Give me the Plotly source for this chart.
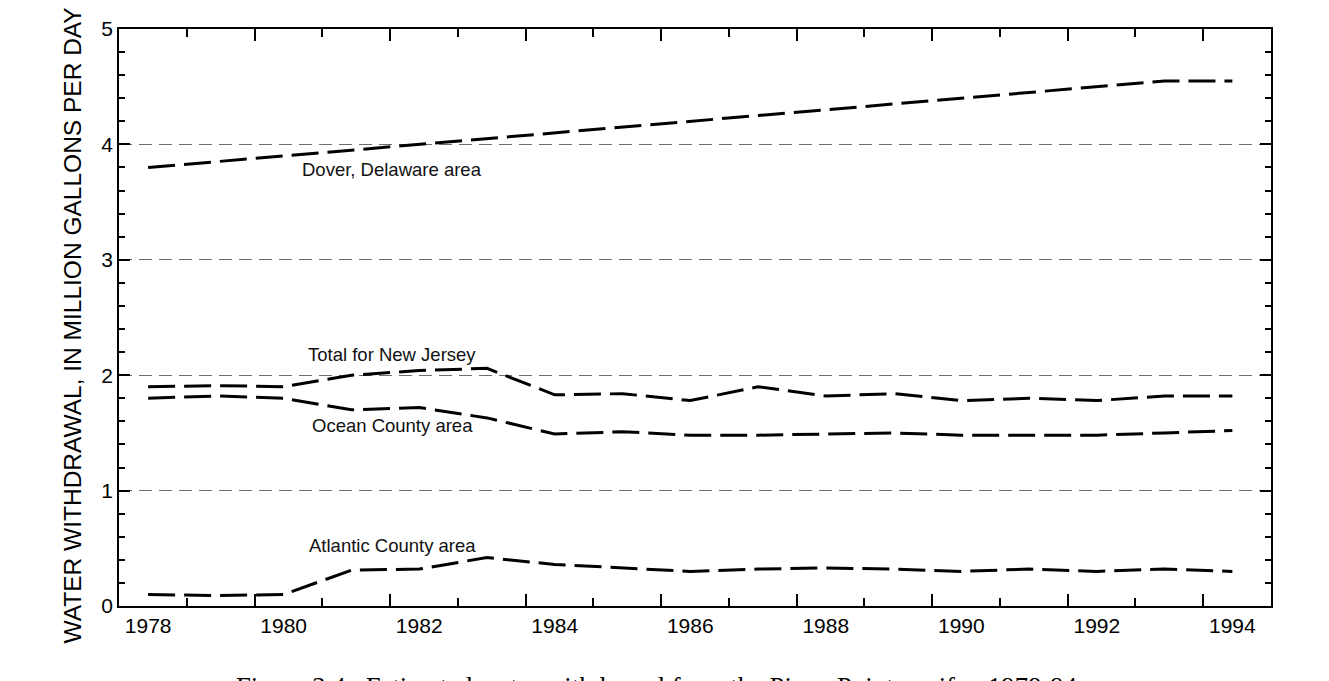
import plotly.graph_objects as go

years = list(range(1978, 1995))
dover = [3.80, 3.85, 3.90, 3.95, 4.00, 4.05, 4.10, 4.15, 4.20, 4.25, 4.30, 4.35, 4.40, 4.45, 4.50, 4.55, 4.55]
total_nj = [1.90, 1.91, 1.90, 2.00, 2.04, 2.06, 1.83, 1.84, 1.78, 1.90, 1.82, 1.84, 1.78, 1.80, 1.78, 1.82, 1.82]
ocean = [1.80, 1.82, 1.80, 1.70, 1.72, 1.63, 1.49, 1.51, 1.48, 1.48, 1.49, 1.50, 1.48, 1.48, 1.48, 1.50, 1.52]
atlantic = [0.10, 0.09, 0.10, 0.31, 0.32, 0.42, 0.36, 0.33, 0.30, 0.32, 0.33, 0.32, 0.30, 0.32, 0.30, 0.32, 0.30]

series = [dover, total_nj, ocean, atlantic]
label_texts = ["Dover, Delaware area", "Total for New Jersey", "Ocean County area", "Atlantic County area"]
label_pos = [(1981.6, 3.78), (1981.6, 2.18), (1981.6, 1.56), (1981.6, 0.52)]

xlabels = list(range(1978, 1995, 2))
tick_offset = 0.57
major_ticks = [y + tick_offset for y in range(1979, 1994, 2)]
minor_ticks = [y + tick_offset for y in range(1978, 1994, 2)]
xrange = [1977 + tick_offset, 1994 + tick_offset]

FONT = "Liberation Sans, Arial, sans-serif"
line_style = dict(color="black", width=3, dash="27px,9px")

fig = go.Figure()
for s in series:
    fig.add_trace(go.Scatter(x=years, y=s, mode="lines", line=line_style,
                             showlegend=False, hoverinfo="skip"))
# dummy trace to hold the tick-only overlay axis
fig.add_trace(go.Scatter(x=[None], y=[None], xaxis="x2", yaxis="y",
                         mode="lines", showlegend=False, hoverinfo="skip"))

for txt, (lx, ly) in zip(label_texts, label_pos):
    fig.add_annotation(x=lx, y=ly, text=txt, showarrow=False,
                       font=dict(family=FONT, size=18.5, color="#111"))

# y-axis title
fig.add_annotation(xref="paper", yref="paper", x=-0.0404, y=0.487,
                   xanchor="center", yanchor="middle", textangle=-90, showarrow=False,
                   text="WATER WITHDRAWAL, IN MILLION GALLONS PER DAY",
                   font=dict(family=FONT, size=24.5, color="black"))

fig.add_annotation(xref="paper", yref="paper", x=0.4696, y=-0.111,
                   xanchor="center", yanchor="top", showarrow=False,
                   text="Figure 3.4.\u00a0 Estimated water withdrawal from the Piney Point aquifer, 1978-94.",
                   font=dict(family="Liberation Serif, Times New Roman, serif", size=26.7, color="black"))

fig.update_layout(
    width=1329, height=681,
    margin=dict(l=119, r=58, t=29, b=75),
    paper_bgcolor="white", plot_bgcolor="white",
    xaxis=dict(range=xrange, tickvals=xlabels, ticktext=[str(v) for v in xlabels],
               ticks="", showgrid=False, zeroline=False,
               showline=True, linecolor="black", linewidth=1.5, mirror=True,
               tickfont=dict(family=FONT, size=21, color="black")),
    xaxis2=dict(range=xrange, overlaying="x", anchor="y", side="bottom",
                tickvals=major_ticks, ticks="inside", ticklen=12, tickwidth=1.5,
                tickcolor="black", showticklabels=False, showgrid=False,
                zeroline=False, showline=False, mirror="ticks",
                minor=dict(tickvals=minor_ticks, ticks="inside", ticklen=8,
                           tickwidth=1.5, tickcolor="black", showgrid=False)),
    yaxis=dict(range=[0, 5], tickvals=[0, 1, 2, 3, 4, 5], ticks="inside",
               ticklen=11, tickwidth=1.5, tickcolor="black",
               showgrid=True, gridcolor="#6e6e6e", gridwidth=1.3, griddash="13px,7px",
               zeroline=False, showline=True, linecolor="black", linewidth=1.5,
               mirror="ticks",
               minor=dict(dtick=0.2, ticks="inside", ticklen=6, tickwidth=1.5,
                          tickcolor="black", showgrid=False),
               tickfont=dict(family=FONT, size=21, color="black")),
)

fig.write_html("out.html")
